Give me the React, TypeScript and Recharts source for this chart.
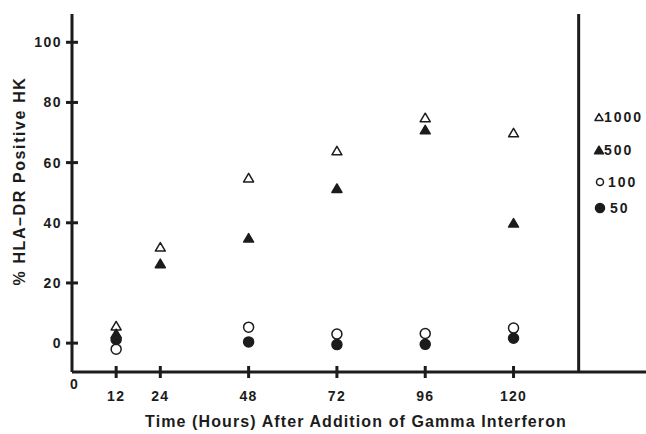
import {
  ReferenceLine,
  Scatter,
  ScatterChart,
  XAxis,
  YAxis,
  Label,
} from 'recharts'

// time points (hours after gamma interferon)
const hours = [12, 24, 48, 72, 96, 120]
const circleHours = [12, 48, 72, 96, 120]

// % HLA-DR positive HK per dose (U/ml)
const ifn1000 = [5.8, 32, 55, 64, 75, 70]
const ifn500 = [3.2, 26.5, 35, 51.5, 71, 40]
const ifn100 = [-2, 5.3, 3, 3.2, 5]
const ifn50 = [1.2, 0.4, -0.5, -0.4, 1.6]

const xTicks = [0, 12, 24, 48, 72, 96, 120]
const yTicks = [0, 20, 40, 60, 80, 100]
const legendLabels = ['1000', '500', '100', '50']

const INK = '#1c1c1c'
const FONT = '"Liberation Sans", Arial, Helvetica, sans-serif'

const toPoints = (xs: number[], ys: number[]) => xs.map((x, i) => ({ x, y: ys[i] }))

function Triangle({ cx, cy, filled, size = 10 }: { cx: number; cy: number; filled?: boolean; size?: number }) {
  const h = size * 0.85
  const d = `M${cx},${cy - h / 2} L${cx + size / 2},${cy + h / 2} L${cx - size / 2},${cy + h / 2} Z`
  return <path d={d} fill={filled ? INK : '#fff'} stroke={INK} strokeWidth={1.5} strokeLinejoin="round" />
}

function Dot({ cx, cy, filled, r = 5 }: { cx: number; cy: number; filled?: boolean; r?: number }) {
  return <circle cx={cx} cy={cy} r={r} fill={filled ? INK : '#fff'} stroke={INK} strokeWidth={1.5} />
}

function XTick(props: any) {
  const { x, y, payload } = props
  if (payload.value === 0) {
    return (
      <text x={x + 2} y={y + 12} textAnchor="middle" dominantBaseline="central" fill={INK}
        fontFamily={FONT} fontWeight="bold" fontSize={14}>0</text>
    )
  }
  return (
    <g>
      <line x1={x} x2={x} y1={y - 6} y2={y + 6} stroke={INK} strokeWidth={3} />
      <text x={x} y={y + 24} textAnchor="middle" dominantBaseline="central" fill={INK}
        fontFamily={FONT} fontWeight="bold" fontSize={14} letterSpacing={1.3}>{payload.value}</text>
    </g>
  )
}

function YTick(props: any) {
  const { x, y, payload } = props
  return (
    <g>
      <line x1={x - 6} x2={x + 6} y1={y} y2={y} stroke={INK} strokeWidth={3} />
      <text x={x - 10} y={y} textAnchor="end" dominantBaseline="central" fill={INK}
        fontFamily={FONT} fontWeight="bold" fontSize={14} letterSpacing={1.5}>{payload.value}</text>
    </g>
  )
}

function Legend() {
  const rows = [117, 150, 182, 208]
  return (
    <svg width={70} height={130} style={{ position: 'absolute', left: 586, top: 100 }}>
      {legendLabels.map((label, i) => {
        const cy = rows[i] - 100
        const icon =
          i === 0 ? <Triangle cx={13} cy={cy} size={8} /> :
          i === 1 ? <Triangle cx={13} cy={cy} size={9} filled /> :
          i === 2 ? <Dot cx={14} cy={cy} r={3.5} /> :
          <Dot cx={14} cy={cy} r={4.5} filled />
        return (
          <g key={label}>
            {icon}
            <text x={i < 2 ? 18 : i === 2 ? 22 : 24} y={cy} dominantBaseline="central" fill={INK}
              fontFamily={FONT} fontWeight="bold" fontSize={14} letterSpacing={2}>{label}</text>
          </g>
        )
      })}
    </svg>
  )
}

export default function App() {
  return (
    <div style={{ position: 'absolute', left: 0, top: 0, width: 646, height: 434, background: '#fff' }}>
      <ScatterChart width={646} height={434} margin={{ top: 14, right: 0, bottom: 0, left: 0 }}>
        <XAxis
          type="number"
          dataKey="x"
          domain={[0, 156]}
          ticks={xTicks}
          tick={XTick}
          tickLine={false}
          tickSize={0}
          tickMargin={0}
          height={62}
          axisLine={{ stroke: INK, strokeWidth: 3 }}
          allowDataOverflow
        >
          <Label
            content={() => (
              <text x={356} y={421} textAnchor="middle" dominantBaseline="central" fill={INK}
                fontFamily={FONT} fontWeight="bold" fontSize={16} letterSpacing={1.1}>
                Time (Hours) After Addition of Gamma Interferon
              </text>
            )}
          />
        </XAxis>
        <YAxis
          type="number"
          dataKey="y"
          domain={[-9.6, 109.4]}
          ticks={yTicks}
          tick={YTick}
          tickLine={false}
          tickSize={0}
          tickMargin={0}
          width={72}
          axisLine={{ stroke: INK, strokeWidth: 3 }}
          allowDataOverflow
        >
          <Label
            content={() => (
              <text x={19} y={181} transform="rotate(-90 19 181)" textAnchor="middle" dominantBaseline="central"
                fill={INK} fontFamily={FONT} fontWeight="bold" fontSize={16} letterSpacing={1.6}>
                % HLA–DR Positive HK
              </text>
            )}
          />
        </YAxis>
        <ReferenceLine x={137.7} stroke={INK} strokeWidth={3} />
        <Scatter name="100" data={toPoints(circleHours, ifn100)} isAnimationActive={false}
          shape={(p: any) => <Dot cx={p.cx} cy={p.cy} />} />
        <Scatter name="50" data={toPoints(circleHours, ifn50)} isAnimationActive={false}
          shape={(p: any) => <Dot cx={p.cx} cy={p.cy} filled />} />
        <Scatter name="1000" data={toPoints(hours, ifn1000)} isAnimationActive={false}
          shape={(p: any) => <Triangle cx={p.cx} cy={p.cy} />} />
        <Scatter name="500" data={toPoints(hours, ifn500)} isAnimationActive={false}
          shape={(p: any) => <Triangle cx={p.cx} cy={p.cy} filled />} />
      </ScatterChart>
      <Legend />
    </div>
  )
}
